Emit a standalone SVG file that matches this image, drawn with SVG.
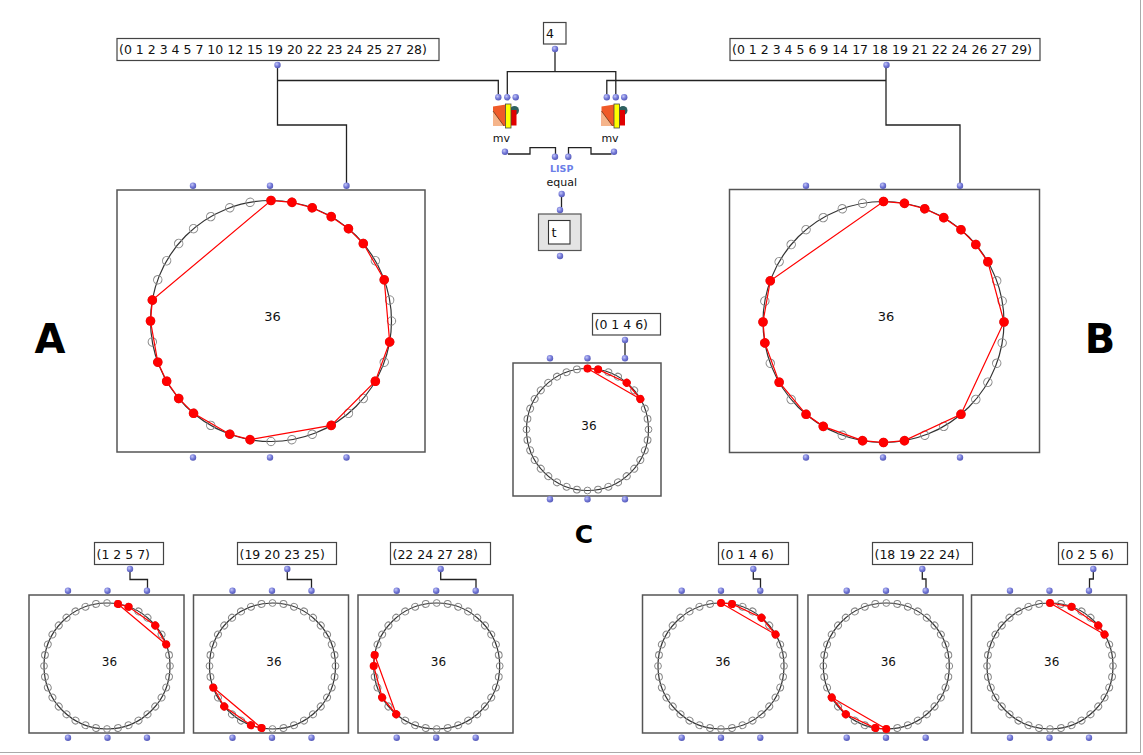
<svg xmlns="http://www.w3.org/2000/svg" width="1143" height="755" viewBox="0 0 1143 755">
<style>
.bx{fill:#fff;stroke:#555;stroke-width:1.5}
.lst{fill:#fff;stroke:#444;stroke-width:1.2}
.tx{font-family:"DejaVu Sans",Verdana,sans-serif;font-size:12.5px;fill:#111}
.n36{font-family:"DejaVu Sans",Verdana,sans-serif;font-size:13px;fill:#111;text-anchor:middle}
.n36s{font-family:"DejaVu Sans",Verdana,sans-serif;font-size:12px;fill:#111;text-anchor:middle}
.lbl{font-family:"DejaVu Sans",Verdana,sans-serif;font-size:11px;fill:#111;text-anchor:middle}
.lisp{font-family:"DejaVu Sans",Verdana,sans-serif;font-size:9.5px;font-weight:bold;fill:#6b7fe8;text-anchor:middle}
.big{font-family:"DejaVu Sans",Verdana,sans-serif;font-weight:bold;fill:#000;text-anchor:middle}
.pt{fill:url(#pg)}
.ring{fill:none;stroke:#333;stroke-width:1.2}
.mk{fill:none;stroke:#888;stroke-width:1}
.rp{fill:none;stroke:#f00;stroke-width:1.2;vector-effect:non-scaling-stroke}
.cn{fill:none;stroke:#222;stroke-width:1.3}
</style>
<defs>
<radialGradient id="pg" cx="0.38" cy="0.35" r="0.7">
<stop offset="0" stop-color="#c4c7f7"/>
<stop offset="0.55" stop-color="#7479d8"/>
<stop offset="1" stop-color="#5257b5"/>
</radialGradient>
<circle id="mL" class="mk" cx="0" cy="-120.5" r="4.2"/>
<g id="mL3"><use href="#mL"/><use href="#mL" transform="rotate(10)"/><use href="#mL" transform="rotate(20)"/></g>
<g id="mL9"><use href="#mL3"/><use href="#mL3" transform="rotate(30)"/><use href="#mL3" transform="rotate(60)"/></g>
<g id="ringL"><circle class="ring" r="120.5"/><use href="#mL9"/><use href="#mL9" transform="rotate(90)"/><use href="#mL9" transform="rotate(180)"/><use href="#mL9" transform="rotate(270)"/></g>
<circle id="mS" class="mk" cx="0" cy="-63" r="3.4"/>
<g id="mS3"><use href="#mS"/><use href="#mS" transform="rotate(10)"/><use href="#mS" transform="rotate(20)"/></g>
<g id="mS9"><use href="#mS3"/><use href="#mS3" transform="rotate(30)"/><use href="#mS3" transform="rotate(60)"/></g>
<g id="ringS"><circle class="ring" r="63"/><use href="#mS9"/><use href="#mS9" transform="rotate(90)"/><use href="#mS9" transform="rotate(180)"/><use href="#mS9" transform="rotate(270)"/></g>
<circle id="mC" class="mk" cx="0" cy="-61" r="3.4"/>
<g id="mC3"><use href="#mC"/><use href="#mC" transform="rotate(10)"/><use href="#mC" transform="rotate(20)"/></g>
<g id="mC9"><use href="#mC3"/><use href="#mC3" transform="rotate(30)"/><use href="#mC3" transform="rotate(60)"/></g>
<g id="ringC"><circle class="ring" r="61"/><use href="#mC9"/><use href="#mC9" transform="rotate(90)"/><use href="#mC9" transform="rotate(180)"/><use href="#mC9" transform="rotate(270)"/></g>
<circle id="dL" cx="0" cy="-120.5" r="4.8" fill="#f00"/>
<circle id="dS" cx="0" cy="-63" r="4" fill="#f00"/>
<circle id="dC" cx="0" cy="-61" r="4" fill="#f00"/>
<g id="mvicon">
<polygon points="0,2.5 13,0.5 13,22 0,22" fill="#f05a28"/>
<polygon points="0,7 11,22 0,22" fill="#f5b48a"/>
<line x1="0" y1="7" x2="11" y2="22" stroke="#5a2a10" stroke-width="0.7"/>
<circle cx="21.5" cy="6.5" r="4.5" fill="#2d6060"/>
<rect x="17" y="6" width="6.5" height="15.5" fill="#e00000"/>
<rect x="12.5" y="0" width="5.5" height="24" fill="#ffff00" stroke="#444" stroke-width="0.8"/>
</g>
</defs>
<rect width="1143" height="755" fill="#fff"/>
<g id="frame" stroke="#aaa" stroke-width="1">
<line x1="1140.5" y1="0" x2="1140.5" y2="753"/>
<line x1="0" y1="752.5" x2="1141" y2="752.5"/>
</g>

<g id="connectors" class="cn">
<path d="M277.5,68 V125 H346.5 V183"/>
<path d="M277.5,80.5 H498.3 V94"/>
<path d="M886,68 V125 H960 V183"/>
<path d="M886,80.5 H606.8 V94"/>
<path d="M555,52 V71.7"/>
<path d="M507.3,94 V71.7 H615.8 V94"/>
<path d="M508,154 H530 V147.7 H555.5 V154"/>
<path d="M611.5,154 H591 V147.7 H568.5 V154"/>
<path d="M561.5,197 V207.5"/>
<path d="M625,343 V355"/>
<path d="M130,572 V579.5 H147.5 V588"/>
<path d="M287.3,572 V579.5 H311.5 V588"/>
<path d="M440.7,572 V579.5 H476 V588"/>
<path d="M753.3,572 V579 H760.5 V588"/>
<path d="M922.3,572 V579 H926 V588"/>
<path d="M1093.3,572 V579 H1089.5 V588"/>
</g>

<g id="listA">
<rect class="lst" x="117" y="38.5" width="322" height="22"/>
<text class="tx" x="119" y="54">(0 1 2 3 4 5 7 10 12 15 19 20 22 23 24 25 27 28)</text>
<circle class="pt" cx="277.5" cy="65" r="3.2"/>
</g>
<g id="listB">
<rect class="lst" x="730" y="38.5" width="310" height="22"/>
<text class="tx" x="732" y="54">(0 1 2 3 4 5 6 9 14 17 18 19 21 22 24 26 27 29)</text>
<circle class="pt" cx="886.5" cy="65" r="3.2"/>
</g>
<g id="num4">
<rect class="lst" x="543.5" y="22.5" width="22.5" height="21.5"/>
<text class="tx" x="546" y="37.5">4</text>
<circle class="pt" cx="555" cy="49" r="3.2"/>
</g>
<g id="mvLeft">
<circle class="pt" cx="498.3" cy="97.3" r="3.2"/>
<circle class="pt" cx="507.3" cy="97.3" r="3.2"/>
<circle class="pt" cx="515.7" cy="97.3" r="3.2"/>
<use href="#mvicon" x="493" y="104"/>
<text class="lbl" x="501.3" y="141.5">mv</text>
<circle class="pt" cx="505" cy="151.7" r="3.2"/>
</g>
<g id="mvRight">
<circle class="pt" cx="606.8" cy="97.3" r="3.2"/>
<circle class="pt" cx="615.8" cy="97.3" r="3.2"/>
<circle class="pt" cx="624.2" cy="97.3" r="3.2"/>
<use href="#mvicon" x="601.5" y="104"/>
<text class="lbl" x="610" y="141.5">mv</text>
<circle class="pt" cx="614" cy="151.7" r="3.2"/>
</g>
<g id="equal">
<circle class="pt" cx="555" cy="156.7" r="3.2"/>
<circle class="pt" cx="568.3" cy="156.7" r="3.2"/>
<text class="lisp" x="561.7" y="171.5">LISP</text>
<text class="lbl" x="561.7" y="186">equal</text>
<circle class="pt" cx="561.7" cy="194" r="3.2"/>
</g>
<g id="resultT">
<circle class="pt" cx="560" cy="210" r="3.2"/>
<rect x="538.5" y="214" width="42.5" height="36.5" fill="#e4e4e4" stroke="#555" stroke-width="1.2"/>
<rect x="548.5" y="220.5" width="21.5" height="23.5" fill="#fff" stroke="#333" stroke-width="1.1"/>
<text class="tx" x="551.5" y="237" style="font-size:13px">t</text>
<circle class="pt" cx="560" cy="256" r="3.2"/>
</g>

<g id="circleA">
<rect class="bx" x="117" y="190" width="308" height="262"/>
<use href="#ringL" x="271" y="321"/>
<g transform="translate(271,321)">
<polygon class="rp" transform="scale(120.5)" points="0,-1 .1736,-.9848 .342,-.9397 .5,-.866 .6428,-.766 .766,-.6428 .9397,-.342 .9848,.1736 .866,.5 .5,.866 -.1736,.9848 -.342,.9397 -.6428,.766 -.766,.6428 -.866,.5 -.9397,.342 -1,0 -.9848,-.1736"/>
<use href="#dL"/><use href="#dL" transform="rotate(10)"/><use href="#dL" transform="rotate(20)"/><use href="#dL" transform="rotate(30)"/><use href="#dL" transform="rotate(40)"/><use href="#dL" transform="rotate(50)"/><use href="#dL" transform="rotate(70)"/><use href="#dL" transform="rotate(100)"/><use href="#dL" transform="rotate(120)"/><use href="#dL" transform="rotate(150)"/><use href="#dL" transform="rotate(190)"/><use href="#dL" transform="rotate(200)"/><use href="#dL" transform="rotate(220)"/><use href="#dL" transform="rotate(230)"/><use href="#dL" transform="rotate(240)"/><use href="#dL" transform="rotate(250)"/><use href="#dL" transform="rotate(270)"/><use href="#dL" transform="rotate(280)"/>
</g>
<text class="n36" x="272.5" y="320.7">36</text>
<circle class="pt" cx="193" cy="185.7" r="3.2"/><circle class="pt" cx="270" cy="185.7" r="3.2"/><circle class="pt" cx="346.5" cy="185.7" r="3.2"/>
<circle class="pt" cx="193" cy="457.5" r="3.2"/><circle class="pt" cx="270" cy="457.5" r="3.2"/><circle class="pt" cx="346.5" cy="457.5" r="3.2"/>
</g>

<g id="circleB">
<rect class="bx" x="729.5" y="189.5" width="310" height="263"/>
<use href="#ringL" x="883.5" y="322"/>
<g transform="translate(883.5,322)">
<polygon class="rp" transform="scale(120.5)" points="0,-1 .1736,-.9848 .342,-.9397 .5,-.866 .6428,-.766 .766,-.6428 .866,-.5 1,0 .6428,.766 .1736,.9848 0,1 -.1736,.9848 -.5,.866 -.6428,.766 -.866,.5 -.9848,.1736 -1,0 -.9397,-.342"/>
<use href="#dL"/><use href="#dL" transform="rotate(10)"/><use href="#dL" transform="rotate(20)"/><use href="#dL" transform="rotate(30)"/><use href="#dL" transform="rotate(40)"/><use href="#dL" transform="rotate(50)"/><use href="#dL" transform="rotate(60)"/><use href="#dL" transform="rotate(90)"/><use href="#dL" transform="rotate(140)"/><use href="#dL" transform="rotate(170)"/><use href="#dL" transform="rotate(180)"/><use href="#dL" transform="rotate(190)"/><use href="#dL" transform="rotate(210)"/><use href="#dL" transform="rotate(220)"/><use href="#dL" transform="rotate(240)"/><use href="#dL" transform="rotate(260)"/><use href="#dL" transform="rotate(270)"/><use href="#dL" transform="rotate(290)"/>
</g>
<text class="n36" x="886" y="321">36</text>
<circle class="pt" cx="806" cy="185.7" r="3.2"/><circle class="pt" cx="883" cy="185.7" r="3.2"/><circle class="pt" cx="960" cy="185.7" r="3.2"/>
<circle class="pt" cx="806" cy="457.5" r="3.2"/><circle class="pt" cx="883" cy="457.5" r="3.2"/><circle class="pt" cx="960" cy="457.5" r="3.2"/>
</g>

<g id="listC">
<rect class="lst" x="592.5" y="313.5" width="68" height="21.5"/>
<text class="tx" x="594.5" y="329">(0 1 4 6)</text>
<circle class="pt" cx="625" cy="340" r="3.2"/>
</g>
<g id="circleC">
<rect class="bx" x="513" y="363" width="148" height="133"/>
<use href="#ringC" x="587.5" y="429.5"/>
<g transform="translate(587.5,429.5)">
<polygon class="rp" transform="scale(61)" points="0,-1 .1736,-.9848 .6428,-.766 .866,-.5"/>
<use href="#dC"/><use href="#dC" transform="rotate(10)"/><use href="#dC" transform="rotate(40)"/><use href="#dC" transform="rotate(60)"/>
</g>
<text class="n36s" x="589" y="430">36</text>
<circle class="pt" cx="550" cy="358.3" r="3.2"/><circle class="pt" cx="587.5" cy="358.3" r="3.2"/><circle class="pt" cx="625" cy="358.3" r="3.2"/>
<circle class="pt" cx="550" cy="499.3" r="3.2"/><circle class="pt" cx="587.5" cy="499.3" r="3.2"/><circle class="pt" cx="625" cy="499.3" r="3.2"/>
</g>

<g id="labelA"><text class="big" x="50" y="353" style="font-size:40px">A</text></g>
<g id="labelB"><text class="big" x="1100" y="353" style="font-size:40px">B</text></g>
<g id="labelC"><text class="big" x="584" y="543" style="font-size:25px">C</text></g>

<g id="list1">
<rect class="lst" x="94.5" y="542.5" width="69" height="22"/>
<text class="tx" x="96.5" y="558.5">(1 2 5 7)</text>
<circle class="pt" cx="130" cy="569" r="3.2"/>
</g>
<g id="small1">
<rect class="bx" x="29" y="595" width="155" height="138"/>
<use href="#ringS" x="107" y="666"/>
<g transform="translate(107,666)">
<polygon class="rp" transform="scale(63)" points=".1736,-.9848 .342,-.9397 .766,-.6428 .9397,-.342"/>
<use href="#dS" transform="rotate(10)"/><use href="#dS" transform="rotate(20)"/><use href="#dS" transform="rotate(50)"/><use href="#dS" transform="rotate(70)"/>
</g>
<text class="n36s" x="109.5" y="665.5">36</text>
<circle class="pt" cx="68" cy="590.7" r="3.2"/><circle class="pt" cx="107.5" cy="590.7" r="3.2"/><circle class="pt" cx="147" cy="590.7" r="3.2"/>
<circle class="pt" cx="68" cy="737.7" r="3.2"/><circle class="pt" cx="107.5" cy="737.7" r="3.2"/><circle class="pt" cx="147" cy="737.7" r="3.2"/>
</g>

<g id="list2">
<rect class="lst" x="237.5" y="542.5" width="99" height="22"/>
<text class="tx" x="239.5" y="558.5">(19 20 23 25)</text>
<circle class="pt" cx="287.3" cy="569" r="3.2"/>
</g>
<g id="small2">
<rect class="bx" x="193.5" y="595" width="155" height="138"/>
<use href="#ringS" x="272.5" y="666"/>
<g transform="translate(272.5,666)">
<polygon class="rp" transform="scale(63)" points="-.1736,.9848 -.342,.9397 -.766,.6428 -.9397,.342"/>
<use href="#dS" transform="rotate(190)"/><use href="#dS" transform="rotate(200)"/><use href="#dS" transform="rotate(230)"/><use href="#dS" transform="rotate(250)"/>
</g>
<text class="n36s" x="274" y="665.5">36</text>
<circle class="pt" cx="232.5" cy="590.7" r="3.2"/><circle class="pt" cx="272" cy="590.7" r="3.2"/><circle class="pt" cx="311.5" cy="590.7" r="3.2"/>
<circle class="pt" cx="232.5" cy="737.7" r="3.2"/><circle class="pt" cx="272" cy="737.7" r="3.2"/><circle class="pt" cx="311.5" cy="737.7" r="3.2"/>
</g>

<g id="list3">
<rect class="lst" x="390.5" y="542.5" width="100" height="22"/>
<text class="tx" x="392.5" y="558.5">(22 24 27 28)</text>
<circle class="pt" cx="440.7" cy="569" r="3.2"/>
</g>
<g id="small3">
<rect class="bx" x="358" y="595" width="155" height="138"/>
<use href="#ringS" x="436.7" y="666"/>
<g transform="translate(436.7,666)">
<polygon class="rp" transform="scale(63)" points="-.6428,.766 -.866,.5 -1,0 -.9848,-.1736"/>
<use href="#dS" transform="rotate(220)"/><use href="#dS" transform="rotate(240)"/><use href="#dS" transform="rotate(270)"/><use href="#dS" transform="rotate(280)"/>
</g>
<text class="n36s" x="438.5" y="665.5">36</text>
<circle class="pt" cx="396.7" cy="590.7" r="3.2"/><circle class="pt" cx="436.2" cy="590.7" r="3.2"/><circle class="pt" cx="475.7" cy="590.7" r="3.2"/>
<circle class="pt" cx="396.7" cy="737.7" r="3.2"/><circle class="pt" cx="436.2" cy="737.7" r="3.2"/><circle class="pt" cx="475.7" cy="737.7" r="3.2"/>
</g>

<g id="list4">
<rect class="lst" x="718.5" y="542.5" width="70" height="22"/>
<text class="tx" x="720.5" y="558.5">(0 1 4 6)</text>
<circle class="pt" cx="753.3" cy="569" r="3.2"/>
</g>
<g id="small4">
<rect class="bx" x="642.5" y="595" width="155" height="138"/>
<use href="#ringS" x="721" y="666"/>
<g transform="translate(721,666)">
<polygon class="rp" transform="scale(63)" points="0,-1 .1736,-.9848 .6428,-.766 .866,-.5"/>
<use href="#dS"/><use href="#dS" transform="rotate(10)"/><use href="#dS" transform="rotate(40)"/><use href="#dS" transform="rotate(60)"/>
</g>
<text class="n36s" x="722.8" y="665.5">36</text>
<circle class="pt" cx="681.7" cy="590.7" r="3.2"/><circle class="pt" cx="721" cy="590.7" r="3.2"/><circle class="pt" cx="760.3" cy="590.7" r="3.2"/>
<circle class="pt" cx="681.7" cy="737.7" r="3.2"/><circle class="pt" cx="721" cy="737.7" r="3.2"/><circle class="pt" cx="760.3" cy="737.7" r="3.2"/>
</g>

<g id="list5">
<rect class="lst" x="872.5" y="542.5" width="100" height="22"/>
<text class="tx" x="874.5" y="558.5">(18 19 22 24)</text>
<circle class="pt" cx="922.3" cy="569" r="3.2"/>
</g>
<g id="small5">
<rect class="bx" x="808" y="595" width="155" height="138"/>
<use href="#ringS" x="886.3" y="666"/>
<g transform="translate(886.3,666)">
<polygon class="rp" transform="scale(63)" points="0,1 -.1736,.9848 -.6428,.766 -.866,.5"/>
<use href="#dS" transform="rotate(180)"/><use href="#dS" transform="rotate(190)"/><use href="#dS" transform="rotate(220)"/><use href="#dS" transform="rotate(240)"/>
</g>
<text class="n36s" x="888.3" y="665.5">36</text>
<circle class="pt" cx="846.7" cy="590.7" r="3.2"/><circle class="pt" cx="886" cy="590.7" r="3.2"/><circle class="pt" cx="925.7" cy="590.7" r="3.2"/>
<circle class="pt" cx="846.7" cy="737.7" r="3.2"/><circle class="pt" cx="886" cy="737.7" r="3.2"/><circle class="pt" cx="925.7" cy="737.7" r="3.2"/>
</g>

<g id="list6">
<rect class="lst" x="1058.5" y="542.5" width="69" height="22"/>
<text class="tx" x="1060.5" y="558.5">(0 2 5 6)</text>
<circle class="pt" cx="1093.3" cy="569" r="3.2"/>
</g>
<g id="small6">
<rect class="bx" x="971.5" y="595" width="155" height="138"/>
<use href="#ringS" x="1050" y="666"/>
<g transform="translate(1050,666)">
<polygon class="rp" transform="scale(63)" points="0,-1 .342,-.9397 .766,-.6428 .866,-.5"/>
<use href="#dS"/><use href="#dS" transform="rotate(20)"/><use href="#dS" transform="rotate(50)"/><use href="#dS" transform="rotate(60)"/>
</g>
<text class="n36s" x="1051.7" y="665.5">36</text>
<circle class="pt" cx="1010" cy="590.7" r="3.2"/><circle class="pt" cx="1049.5" cy="590.7" r="3.2"/><circle class="pt" cx="1089" cy="590.7" r="3.2"/>
<circle class="pt" cx="1010" cy="737.7" r="3.2"/><circle class="pt" cx="1049.5" cy="737.7" r="3.2"/><circle class="pt" cx="1089" cy="737.7" r="3.2"/>
</g>
</svg>
